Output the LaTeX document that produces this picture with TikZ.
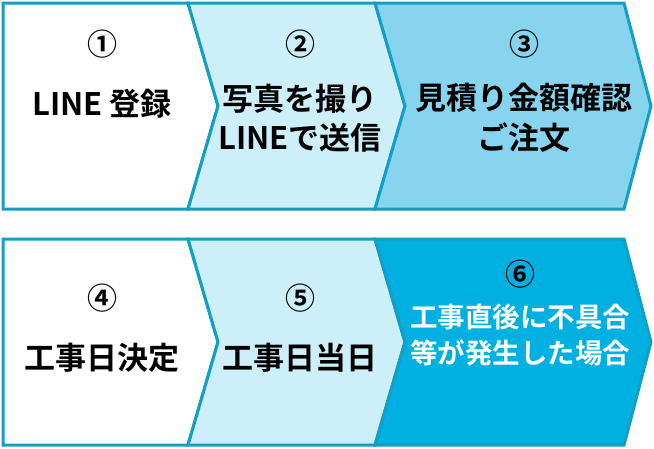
\documentclass[tikz,border=0pt]{standalone}
\usepackage{fontspec}
\setmainfont{Noto Sans CJK JP}[BoldFont={* Bold}]
\definecolor{bd}{HTML}{129FC6}
\definecolor{lt}{HTML}{CDEFF9}
\definecolor{md}{HTML}{86D4EE}
\definecolor{st}{HTML}{00B0E0}
\begin{document}
\begin{tikzpicture}[x=1pt,y=-1pt,
  chev/.style={draw=bd,line width=3pt,line join=miter},
  lbl/.style={align=center,font=\bfseries\fontsize{31}{39}\selectfont,inner sep=0pt},
  num/.style={font=\bfseries\fontsize{30}{30}\selectfont,inner sep=0pt}]
\useasboundingbox (0,0) rectangle (654,448);
% row 1
\filldraw[chev,fill=white] (3,3)--(188,3)--(218,106)--(188,209)--(3,209)--cycle;
\filldraw[chev,fill=lt] (188,3)--(375,3)--(405,106)--(375,209)--(188,209)--(218,106)--cycle;
\filldraw[chev,fill=md] (375,3)--(624,3)--(651,106)--(624,209)--(375,209)--(405,106)--cycle;
% row 2
\filldraw[chev,fill=white] (3,239)--(188,239)--(218,342)--(188,445)--(3,445)--cycle;
\filldraw[chev,fill=lt] (188,239)--(375,239)--(405,342)--(375,445)--(188,445)--(218,342)--cycle;
\filldraw[chev,fill=st] (375,239)--(624,239)--(651,342)--(624,445)--(375,445)--(405,342)--cycle;
\node[num] (n1) at (102,44) {①};
\node[lbl] (t1) at (102,104) {LINE 登録};
\node[num] (n2) at (300,44) {②};
\node[lbl] (t2) at (300,118) {写真を撮り\\LINEで送信};
\node[num] (n3) at (524,44) {③};
\node[lbl,font=\bfseries\fontsize{31}{40}\selectfont] (t3) at (524,118) {見積り金額確認\\ご注文};
\node[num] (n4) at (102,298) {④};
\node[lbl] (t4) at (102,358) {工事日決定};
\node[num] (n5) at (300,298) {⑤};
\node[lbl] (t5) at (300,358) {工事日当日};
\node[num] (n6) at (520,274) {⑥};
\node[lbl,text=white,font=\bfseries\fontsize{27.5}{36}\selectfont] (t6) at (520,335) {工事直後に不具合\\等が発生した場合};
\end{tikzpicture}
\end{document}
